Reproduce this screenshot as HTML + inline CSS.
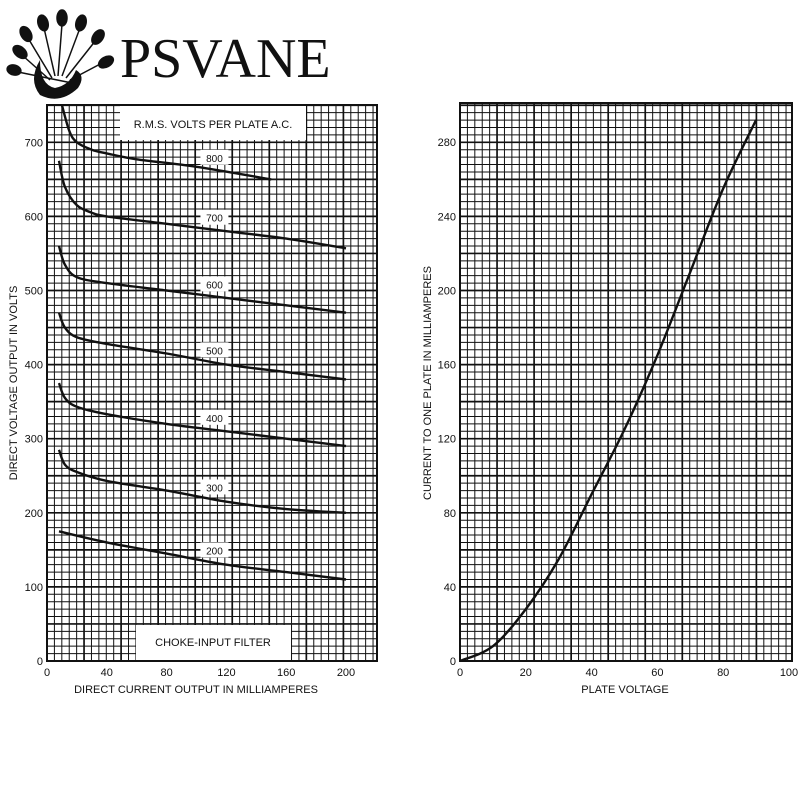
<!DOCTYPE html>
<html><head><meta charset="utf-8"><style>
body{margin:0;background:#fff;width:800px;height:800px;overflow:hidden}
svg{display:block}
text{font-family:"Liberation Sans",sans-serif;fill:#111}
</style></head><body>
<svg id="s" width="800" height="800" viewBox="0 0 800 800">
<g id="logo">
<g stroke="#111" stroke-width="1.5" fill="#111">
<line x1="50" y1="80" x2="22" y2="55"/><ellipse cx="20" cy="52" rx="5" ry="8" transform="rotate(-50 20 52)"/>
<line x1="52" y1="78" x2="28" y2="38"/><ellipse cx="26" cy="34" rx="5" ry="8" transform="rotate(-30 26 34)"/>
<line x1="55" y1="76" x2="44" y2="28"/><ellipse cx="43" cy="23" rx="5" ry="8" transform="rotate(-15 43 23)"/>
<line x1="58" y1="76" x2="62" y2="24"/><ellipse cx="62" cy="18" rx="5" ry="8"/>
<line x1="62" y1="76" x2="80" y2="28"/><ellipse cx="81" cy="23" rx="5" ry="8" transform="rotate(15 81 23)"/>
<line x1="66" y1="78" x2="96" y2="40"/><ellipse cx="98" cy="37" rx="5" ry="8" transform="rotate(35 98 37)"/>
<line x1="70" y1="80" x2="104" y2="62"/><ellipse cx="106" cy="62" rx="5" ry="8" transform="rotate(60 106 62)"/>
<line x1="72" y1="83" x2="18" y2="72"/><ellipse cx="14" cy="70" rx="5" ry="7" transform="rotate(-75 14 70)"/>
</g>
<path d="M40 60 Q28 80 40 95 Q60 105 78 88 Q86 76 76 70 Q70 85 55 88 Q40 85 40 60Z" fill="#111"/>
<text x="120" y="77" style="font-family:'Liberation Serif',serif;font-size:56px">PSVANE</text>
</g>
<g id="left"></g>
<g id="right"></g>
</svg>
<script>
// Left chart data
const lvLevels=["800","700","600","500","400","300","200"];
const lcX=[[10,15,20,30,40,60,100,150],[8,12,20,30,40,80,120,160,200],[8,12,20,40,80,120,160,200],[8,12,20,40,80,120,160,200],[8,12,20,40,80,120,160,200],[8,12,20,40,80,120,160,200],[8,40,80,120,160,200]];
const lcY=[[750,715,700,690,685,677,667,650],[675,640,615,605,600,590,580,570,557],[560,535,518,510,500,490,480,470],[470,450,437,428,415,400,390,380],[375,355,343,333,320,310,300,290],[285,265,255,243,230,215,205,200],[175,160,145,130,120,110]];
const lXTicks=[0,40,80,120,160,200];
const lYTicks=[0,100,200,300,400,500,600,700];
// Right chart data
const rX=[0,10,20,30,40,50,60,70,80,90];
const rY=[0,8,28,55,90,125,165,210,255,292];
const rXTicks=[0,20,40,60,80,100];
const rYTicks=[0,40,80,120,160,200,240,280];

const NS="http://www.w3.org/2000/svg";
function mk(p,t,a,txt){const e=document.createElementNS(NS,t);for(const k in a)e.setAttribute(k,a[k]);if(txt!==undefined)e.textContent=txt;p.appendChild(e);return e;}
function grid(g,x0,x1,y0,y1,step){
  for(let i=0,x=x0;x<=x1+0.1;x+=step,i++){const l=mk(g,'line',{x1:x,x2:x,y1:y0,y2:y1,stroke:'#111','stroke-width':i%5==0?1.7:1});
    }
  for(let i=0,y=y1;y>=y0-0.1;y-=step,i++){const l=mk(g,'line',{x1:x0,x2:x1,y1:y,y2:y,stroke:'#111','stroke-width':i%5==0?1.7:1});
    }
  const b=mk(g,'rect',{x:x0,y:y0,width:x1-x0,height:y1-y0,fill:'none',stroke:'#111','stroke-width':2});
  
}
function pathD(xs,ys,sx,sy){
  const P=xs.map((v,i)=>[sx(v),sy(ys[i])]);
  let d='M'+P[0][0].toFixed(1)+' '+P[0][1].toFixed(1);
  for(let i=0;i<P.length-1;i++){
    const p0=P[i-1]||P[i],p1=P[i],p2=P[i+1],p3=P[i+2]||P[i+1];
    const c1=[p1[0]+(p2[0]-p0[0])/6,p1[1]+(p2[1]-p0[1])/6],c2=[p2[0]-(p3[0]-p1[0])/6,p2[1]-(p3[1]-p1[1])/6];
    d+=' C'+c1.map(v=>v.toFixed(1)).join(' ')+' '+c2.map(v=>v.toFixed(1)).join(' ')+' '+p2.map(v=>v.toFixed(1)).join(' ');
  }
  return d;
}

// LEFT
const L=document.getElementById('left');
const lsx=v=>47+v*(299/200), lsy=v=>661-v*0.741;
grid(L,47,377,105,661,7.41);
let r=mk(L,'rect',{x:120,y:106,width:186,height:34,fill:'#fff'});
let t=mk(L,'text',{x:213,y:128,'text-anchor':'middle','font-size':11},'R.M.S. VOLTS PER PLATE A.C.');
r=mk(L,'rect',{x:136,y:625,width:155,height:35,fill:'#fff'});
t=mk(L,'text',{x:213,y:646,'text-anchor':'middle','font-size':11},'CHOKE-INPUT FILTER');
lcX.forEach((xs,i)=>{
  const p=mk(L,'path',{d:pathD(xs,lcY[i],lsx,lsy),fill:'none',stroke:'#111','stroke-width':2.4});
  
  let lx=112,ly=null;for(let k=1;k<xs.length;k++){if(xs[k]>=lx){ly=lcY[i][k-1]+(lcY[i][k]-lcY[i][k-1])*(lx-xs[k-1])/(xs[k]-xs[k-1]);break;}}
  const cx=lsx(lx),cy=lsy(ly)-12;
  const b=mk(L,'rect',{x:cx-14,y:cy-8,width:28,height:15,fill:'#fff'});
  const tt=mk(L,'text',{x:cx,y:cy+4,'text-anchor':'middle','font-size':10},lvLevels[i]);
});
lXTicks.forEach(v=>{const e=mk(L,'text',{x:lsx(v),y:676,'text-anchor':'middle','font-size':11},String(v));});
lYTicks.forEach(v=>{const e=mk(L,'text',{x:43,y:lsy(v)+4,'text-anchor':'end','font-size':11},String(v));});
t=mk(L,'text',{x:196,y:693,'text-anchor':'middle','font-size':11},'DIRECT CURRENT OUTPUT IN MILLIAMPERES');
t=mk(L,'text',{x:0,y:0,'text-anchor':'middle','font-size':11,transform:'translate(17 383) rotate(-90)'},'DIRECT VOLTAGE OUTPUT IN VOLTS');

// RIGHT
const R=document.getElementById('right');
const rsx=v=>460+v*3.29, rsy=v=>661-v*1.853;
grid(R,460,792,103,661,7.41);
const rp=mk(R,'path',{d:pathD(rX,rY,rsx,rsy),fill:'none',stroke:'#111','stroke-width':2.4});

rXTicks.forEach(v=>{const e=mk(R,'text',{x:rsx(v),y:676,'text-anchor':'middle','font-size':11},String(v));});
rYTicks.forEach(v=>{const e=mk(R,'text',{x:456,y:rsy(v)+4,'text-anchor':'end','font-size':11},String(v));});
t=mk(R,'text',{x:625,y:693,'text-anchor':'middle','font-size':11},'PLATE VOLTAGE');
t=mk(R,'text',{x:0,y:0,'text-anchor':'middle','font-size':11,transform:'translate(431 383) rotate(-90)'},'CURRENT TO ONE PLATE IN MILLIAMPERES');
</script>
</body></html>
